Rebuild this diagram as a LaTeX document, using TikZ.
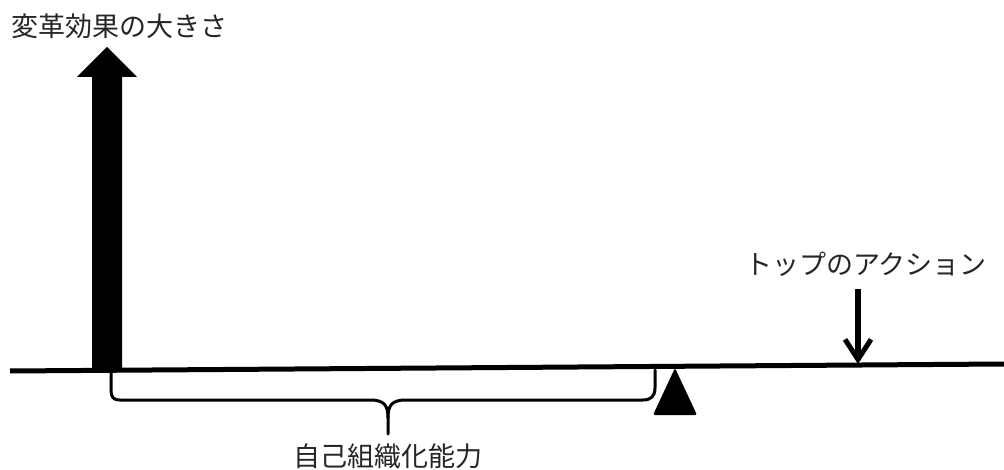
\documentclass[tikz,border=0pt]{standalone}
\usepackage{fontspec}
\newfontfamily\cjk{Noto Sans CJK JP}
\usetikzlibrary{arrows.meta}
\begin{document}
\begin{tikzpicture}[x=1pt,y=-1pt,
  lbl/.style={font=\cjk\fontsize{27}{32}\selectfont, inner sep=0pt, text=black!85},
  beam/.style={line width=5pt, line cap=butt},
  bracepath/.style={line width=3pt, line cap=round, line join=round},
  actarrow/.style={line width=6pt, -{Straight Barb[length=20pt,width=26pt,line width=5pt]}}]
\useasboundingbox[fill=white] (0,0) rectangle (1004,470);
% beam
\coordinate (bl) at (10,371);
\coordinate (br) at (1004,364);
\draw[beam] (bl) -- (br);
% big arrow
\fill[black] (92,369) -- (92,77) -- (77,77) -- (107,47) -- (137,77) -- (122,77) -- (122,369) -- cycle;
% fulcrum
\fill[black, rounded corners=1.5pt] (675,368) -- (697,415) -- (653,415) -- cycle;
% brace
\draw[bracepath] (111,371) -- (111,390) .. controls (111,397) and (113,400) .. (120,400)
  -- (370,400) .. controls (384,400) and (388,405) .. (388,418) -- (388,434);
\draw[bracepath] (388,418) .. controls (388,405) and (392,400) .. (406,400)
  -- (643,400) .. controls (651,400) and (655,396) .. (655,388) -- (655,370);
% action arrow
\coordinate (atop) at (858,289);
\coordinate (abot) at (858,364);
\draw[actarrow] (atop) -- (abot);
% labels
\node[lbl] (effect) at (120,26) {変革効果の大きさ};
\node[lbl] (action) at (866,264) {トップのアクション};
\node[lbl] (self) at (388,456) {自己組織化能力};
\end{tikzpicture}
\end{document}
